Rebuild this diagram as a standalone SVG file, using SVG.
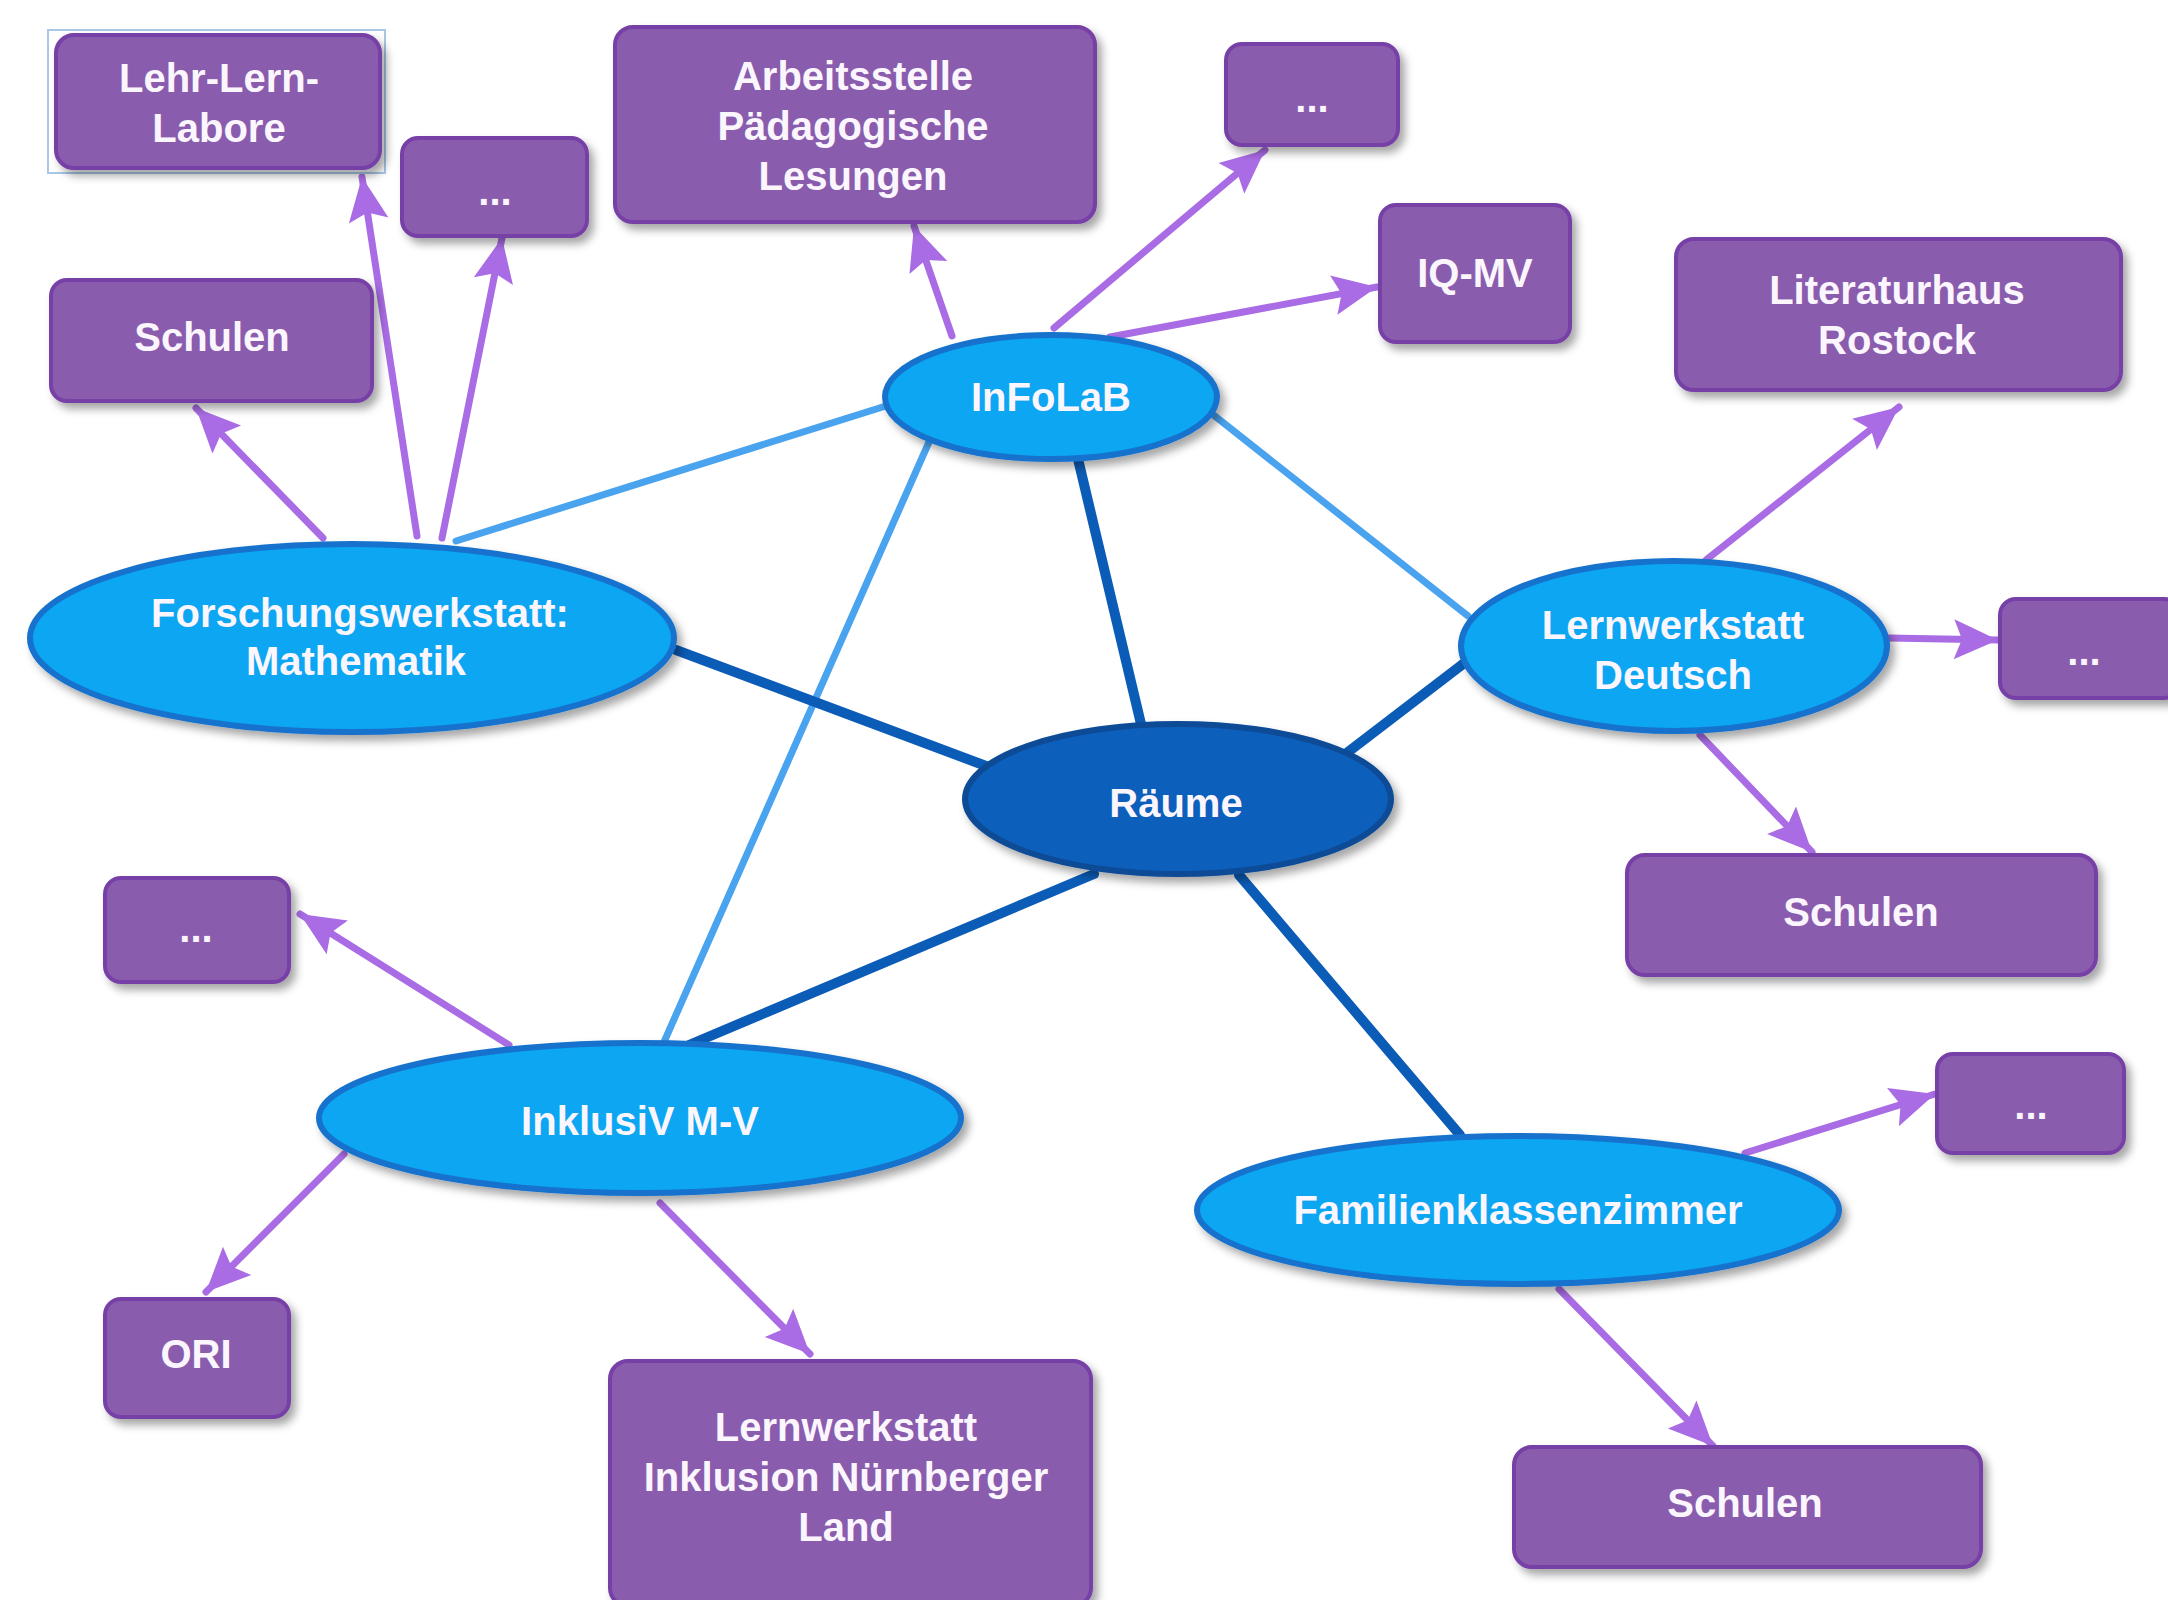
<svg xmlns="http://www.w3.org/2000/svg" width="2168" height="1600" viewBox="0 0 2168 1600">
<defs>
<filter id="sh" x="-10%" y="-10%" width="130%" height="140%">
<feDropShadow dx="5" dy="6" stdDeviation="4" flood-color="#000" flood-opacity="0.35"/>
</filter>
<marker id="ah" markerUnits="userSpaceOnUse" markerWidth="48" markerHeight="48" viewBox="0 0 48 48" refX="46" refY="24" orient="auto">
<path d="M2,4 L46,24 L2,44 L10,24 Z" fill="#a96ce4"/>
</marker>
<style>
.box{fill:#8a5cae;stroke:#7740a6;stroke-width:4;filter:url(#sh)}
.ell{fill:#0aa6f2;stroke:#1672cc;stroke-width:6;filter:url(#sh)}
.ell2{fill:#0b5fbc;stroke:#0a4b96;stroke-width:6;filter:url(#sh)}
.t{font-family:"Liberation Sans",Arial,sans-serif;font-weight:bold;font-size:40px;fill:#fbf6fd;text-anchor:middle}
.lb{stroke:#4aa3ee;stroke-width:7;stroke-linecap:round;fill:none}
.db{stroke:#0b5cb6;stroke-width:10;stroke-linecap:round;fill:none}
.pa{stroke:#a96ce4;stroke-width:7;stroke-linecap:round;fill:none;marker-end:url(#ah)}
</style>
</defs>
<rect width="2168" height="1600" fill="#ffffff"/>

<g id="connectors">
<line class="lb" x1="889" y1="405" x2="456" y2="541"/>
<line class="lb" x1="929" y1="442" x2="664" y2="1042"/>
<line class="lb" x1="1211" y1="413" x2="1468" y2="616"/>
<line class="db" x1="1078" y1="459" x2="1141" y2="724"/>
<line class="db" x1="676" y1="650" x2="986" y2="766"/>
<line class="db" x1="1463" y1="664" x2="1348" y2="752"/>
<line class="db" x1="1094" y1="874" x2="689" y2="1045"/>
<line class="db" x1="1239" y1="875" x2="1460" y2="1135"/>
<line class="pa" x1="323" y1="538" x2="196" y2="408"/>
<line class="pa" x1="417" y1="536" x2="362" y2="177"/>
<line class="pa" x1="442" y1="538" x2="502" y2="238"/>
<line class="pa" x1="952" y1="336" x2="914" y2="226"/>
<line class="pa" x1="1054" y1="328" x2="1265" y2="150"/>
<line class="pa" x1="1110" y1="337" x2="1377" y2="287"/>
<line class="pa" x1="1706" y1="560" x2="1899" y2="407"/>
<line class="pa" x1="1889" y1="638" x2="1998" y2="640"/>
<line class="pa" x1="1700" y1="735" x2="1812" y2="852"/>
<line class="pa" x1="509" y1="1045" x2="300" y2="914"/>
<line class="pa" x1="344" y1="1154" x2="206" y2="1292"/>
<line class="pa" x1="660" y1="1203" x2="810" y2="1354"/>
<line class="pa" x1="1745" y1="1153" x2="1935" y2="1094"/>
<line class="pa" x1="1559" y1="1289" x2="1713" y2="1446"/>
</g>

<g id="lehr-lern-labore">
<rect x="48" y="30" width="337" height="143" fill="none" stroke="#a9c8e8" stroke-width="2"/>
<rect class="box" x="56" y="35" width="324" height="133" rx="18"/>
<text class="t" x="219" y="92">Lehr-Lern-</text>
<text class="t" x="219" y="142">Labore</text>
</g>
<g id="dots-1">
<rect class="box" x="402" y="138" width="185" height="98" rx="16"/>
<text class="t" x="495" y="205">...</text>
</g>
<g id="arbeitsstelle">
<rect class="box" x="615" y="27" width="480" height="195" rx="18"/>
<text class="t" x="853" y="90">Arbeitsstelle</text>
<text class="t" x="853" y="140">Pädagogische</text>
<text class="t" x="853" y="190">Lesungen</text>
</g>
<g id="dots-2">
<rect class="box" x="1226" y="44" width="172" height="101" rx="16"/>
<text class="t" x="1312" y="112">...</text>
</g>
<g id="iq-mv">
<rect class="box" x="1380" y="205" width="190" height="137" rx="16"/>
<text class="t" x="1475" y="287">IQ-MV</text>
</g>
<g id="literaturhaus">
<rect class="box" x="1676" y="239" width="445" height="151" rx="18"/>
<text class="t" x="1897" y="304">Literaturhaus</text>
<text class="t" x="1897" y="354">Rostock</text>
</g>
<g id="schulen-1">
<rect class="box" x="51" y="280" width="321" height="121" rx="16"/>
<text class="t" x="212" y="351">Schulen</text>
</g>
<g id="dots-3">
<rect class="box" x="2000" y="599" width="180" height="99" rx="16"/>
<text class="t" x="2084" y="665">...</text>
</g>
<g id="schulen-2">
<rect class="box" x="1627" y="855" width="469" height="120" rx="18"/>
<text class="t" x="1861" y="926">Schulen</text>
</g>
<g id="dots-4">
<rect class="box" x="105" y="878" width="184" height="104" rx="16"/>
<text class="t" x="196" y="942">...</text>
</g>
<g id="dots-5">
<rect class="box" x="1937" y="1054" width="187" height="99" rx="16"/>
<text class="t" x="2031" y="1119">...</text>
</g>
<g id="ori">
<rect class="box" x="105" y="1299" width="184" height="118" rx="16"/>
<text class="t" x="196" y="1368">ORI</text>
</g>
<g id="lernwerkstatt-inklusion">
<rect class="box" x="610" y="1361" width="481" height="245" rx="18"/>
<text class="t" x="846" y="1441">Lernwerkstatt</text>
<text class="t" x="846" y="1491">Inklusion Nürnberger</text>
<text class="t" x="846" y="1541">Land</text>
</g>
<g id="schulen-3">
<rect class="box" x="1514" y="1447" width="467" height="120" rx="18"/>
<text class="t" x="1745" y="1517">Schulen</text>
</g>

<g id="infolab">
<ellipse class="ell" cx="1051" cy="397" rx="166" ry="62"/>
<text class="t" x="1051" y="411">InFoLaB</text>
</g>
<g id="forschungswerkstatt">
<ellipse class="ell" cx="352" cy="638" rx="322" ry="94"/>
<text class="t" x="360" y="627">Forschungswerkstatt:</text>
<text class="t" x="356" y="675">Mathematik</text>
</g>
<g id="lernwerkstatt-deutsch">
<ellipse class="ell" cx="1674" cy="646" rx="213" ry="85"/>
<text class="t" x="1673" y="639">Lernwerkstatt</text>
<text class="t" x="1673" y="689">Deutsch</text>
</g>
<g id="raeume">
<ellipse class="ell2" cx="1178" cy="799" rx="213" ry="75"/>
<text class="t" x="1176" y="817">Räume</text>
</g>
<g id="inklusiv">
<ellipse class="ell" cx="640" cy="1118" rx="321" ry="75"/>
<text class="t" x="640" y="1135">InklusiV M-V</text>
</g>
<g id="familienklassenzimmer">
<ellipse class="ell" cx="1518" cy="1210" rx="321" ry="74"/>
<text class="t" x="1518" y="1224">Familienklassenzimmer</text>
</g>
</svg>
